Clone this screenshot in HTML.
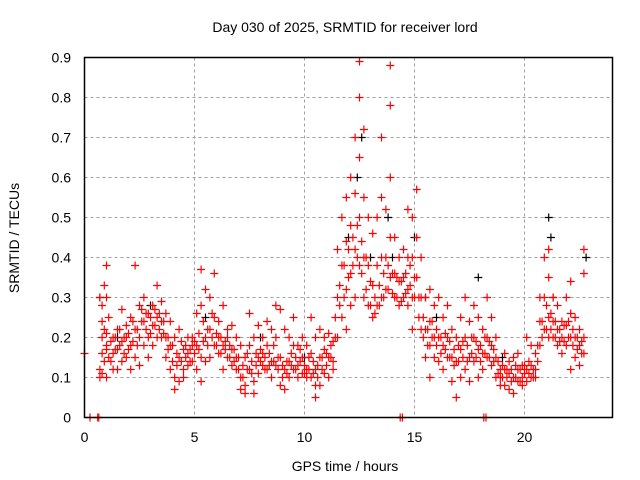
<!DOCTYPE html>
<html><head><meta charset="utf-8"><style>
body{margin:0;background:#fff;}
svg{display:block;font-family:"Liberation Sans",sans-serif;}
</style></head><body>
<svg id="chart" width="640" height="480">
<rect width="640" height="480" fill="#fff"/>
<text x="345" y="32" font-size="14" text-anchor="middle">Day 030 of 2025, SRMTID for receiver lord</text>
<text x="345" y="471" font-size="14" text-anchor="middle">GPS time / hours</text>
<text transform="translate(19,238) rotate(-90)" font-size="14" text-anchor="middle">SRMTID / TECUs</text>
<g id="grid"></g>
<g id="ticks"></g>
<g id="marks"></g>
<rect x="84.5" y="57.5" width="528" height="360" fill="none" stroke="#000" stroke-width="1.5"/>
</svg>
<script>
const xTicks=[0,5,10,15,20];
const yTicks=[0,0.1,0.2,0.3,0.4,0.5,0.6,0.7,0.8,0.9];
const yTickLabels=["0","0.1","0.2","0.3","0.4","0.5","0.6","0.7","0.8","0.9"];
const redT=[0.0,0.7,0.8,0.9,1.0,1.1,1.3,1.5,1.7,1.9,2.1,2.3,2.5,2.7,2.9,3.1,3.3,3.5,3.7,3.9,4.1,4.3,4.5,4.7,4.9,5.1,5.3,5.5,5.7,5.9,6.1,6.3,6.5,6.7,6.9,7.1,7.3,7.5,7.7,7.9,8.1,8.3,8.5,8.7,8.9,9.1,9.3,9.5,9.7,9.9,10.1,10.3,10.5,10.7,10.9,11.1,11.3,11.5,11.7,11.9,12.1,12.3,12.5,12.7,12.9,13.1,13.3,13.5,13.7,13.9,14.1,14.3,14.5,14.7,14.9,15.1,15.3,15.5,15.7,15.9,16.1,16.3,16.5,16.7,16.9,17.1,17.3,17.5,17.7,17.9,18.1,18.3,18.5,18.7,18.9,19.1,19.3,19.5,19.7,19.9,20.1,20.3,20.5,20.7,20.9,21.1,21.3,21.5,21.7,21.9,22.1,22.3,22.5,22.7];
const redV=[[0.16],[0.3,0.12,0.1],[0.28,0.11,0.2],[0.33,0.22,0.14],[0.38,0.3,0.18,0.1],[0.25,0.15],[0.2,0.12,0.16],[0.22,0.17,0.12],[0.27,0.19,0.14],[0.2,0.15,0.23],[0.18,0.12,0.25],[0.38,0.22,0.15],[0.28,0.2,0.13],[0.3,0.24,0.18],[0.26,0.2,0.15],[0.28,0.23,0.18],[0.33,0.25,0.2],[0.29,0.24,0.2],[0.26,0.2,0.15],[0.24,0.18,0.12],[0.2,0.1,0.07],[0.22,0.15,0.09],[0.17,0.12,0.1],[0.2,0.16,0.13],[0.18,0.14,0.2],[0.26,0.18,0.12],[0.37,0.28,0.15,0.09],[0.32,0.2,0.14],[0.3,0.22,0.15],[0.36,0.25,0.18],[0.24,0.2,0.16],[0.28,0.18,0.12],[0.2,0.15,0.22],[0.23,0.17,0.13],[0.2,0.15,0.12],[0.18,0.1,0.07],[0.15,0.08,0.06],[0.26,0.18,0.12],[0.2,0.09,0.06],[0.23,0.15,0.11],[0.2,0.16,0.13],[0.24,0.18,0.12],[0.22,0.14,0.1],[0.28,0.2,0.13],[0.27,0.15,0.08],[0.22,0.12,0.07],[0.2,0.14,0.1],[0.25,0.18,0.12],[0.18,0.13,0.1],[0.2,0.15,0.11],[0.18,0.12,0.1],[0.25,0.16,0.1],[0.2,0.12,0.08,0.05],[0.22,0.15,0.08],[0.2,0.17,0.11],[0.21,0.15,0.1],[0.19,0.14,0.12],[0.42,0.3,0.2],[0.5,0.38,0.25],[0.55,0.44,0.32,0.22],[0.6,0.48,0.36,0.28],[0.7,0.56,0.42,0.3],[0.89,0.8,0.65,0.5,0.38],[0.72,0.55,0.4,0.3],[0.5,0.38,0.28],[0.46,0.33,0.25],[0.5,0.38,0.28],[0.7,0.55,0.4,0.3],[0.52,0.4,0.32],[0.88,0.78,0.6,0.45,0.35],[0.45,0.36,0.3],[0.4,0.34,0.28],[0.42,0.35,0.3],[0.52,0.4,0.32,0.28],[0.5,0.4,0.3,0.22],[0.57,0.45,0.35],[0.4,0.3,0.22],[0.3,0.22,0.15],[0.32,0.24,0.18,0.1],[0.28,0.2,0.15],[0.3,0.2,0.14],[0.25,0.18,0.12],[0.28,0.2,0.15],[0.22,0.15,0.09],[0.2,0.14,0.05],[0.25,0.17,0.1],[0.3,0.2,0.12],[0.24,0.15,0.09],[0.28,0.2,0.14],[0.25,0.17,0.1],[0.22,0.16,0.12],[0.3,0.2,0.15],[0.25,0.18,0.13],[0.2,0.15,0.1],[0.12,0.1,0.08],[0.16,0.12,0.08],[0.14,0.11,0.07],[0.15,0.1,0.06],[0.16,0.12,0.09],[0.13,0.1,0.08],[0.2,0.12,0.09],[0.18,0.13,0.1],[0.16,0.12,0.1],[0.3,0.24,0.18],[0.4,0.3,0.22],[0.42,0.35,0.25,0.2],[0.3,0.24,0.2],[0.28,0.22,0.18],[0.24,0.2,0.16],[0.3,0.23,0.18],[0.34,0.26,0.2,0.12],[0.25,0.2,0.15],[0.22,0.18,0.13],[0.42,0.36,0.2,0.16]];
const redT2=[0.8,1.0,1.2,1.4,1.6,1.8,2.0,2.2,2.4,2.6,2.8,3.0,3.2,3.4,3.6,3.8,4.0,4.2,4.4,4.6,4.8,5.0,5.2,5.4,5.6,5.8,6.0,6.2,6.4,6.6,6.8,7.0,7.2,7.4,7.6,7.8,8.0,8.2,8.4,8.6,8.8,9.0,9.2,9.4,9.6,9.8,10.0,10.2,10.4,10.6,10.8,11.0,11.2,11.4,11.6,11.8,12.0,12.2,12.4,12.6,12.8,13.0,13.2,13.4,13.6,13.8,14.0,14.2,14.4,14.6,14.8,15.0,15.2,15.4,15.6,15.8,16.0,16.2,16.4,16.6,16.8,17.0,17.2,17.4,17.6,17.8,18.0,18.2,18.4,18.6,18.8,19.0,19.2,19.4,19.6,19.8,20.0,20.2,20.4,20.6,20.8,21.0,21.2,21.4,21.6,21.8,22.0,22.2,22.4,22.6];
const redV2=[[0.16,0.24],[0.17,0.21],[0.19,0.14],[0.2,0.17],[0.18,0.22],[0.16,0.2],[0.21,0.17],[0.19,0.24],[0.22,0.18],[0.24,0.27],[0.22,0.26],[0.25,0.21],[0.27,0.23],[0.26,0.22],[0.24,0.21],[0.2,0.17],[0.18,0.14],[0.16,0.13],[0.14,0.19],[0.15,0.18],[0.17,0.14],[0.19,0.16],[0.21,0.17],[0.24,0.19],[0.22,0.18],[0.2,0.26],[0.21,0.18],[0.2,0.16],[0.19,0.17],[0.18,0.15],[0.17,0.14],[0.15,0.12],[0.13,0.1],[0.16,0.12],[0.14,0.11],[0.16,0.13],[0.17,0.14],[0.15,0.12],[0.16,0.13],[0.18,0.14],[0.15,0.12],[0.13,0.1],[0.14,0.11],[0.16,0.13],[0.15,0.12],[0.14,0.17],[0.13,0.11],[0.15,0.12],[0.14,0.11],[0.13,0.1],[0.15,0.12],[0.16,0.13],[0.15,0.18],[0.25,0.2],[0.33,0.28],[0.38,0.3],[0.42,0.35],[0.45,0.38],[0.48,0.4],[0.44,0.36],[0.4,0.32],[0.34,0.28],[0.3,0.26],[0.33,0.28],[0.36,0.3],[0.38,0.32],[0.36,0.31],[0.35,0.3],[0.34,0.29],[0.36,0.31],[0.38,0.33],[0.35,0.3],[0.3,0.25],[0.25,0.2],[0.22,0.18],[0.24,0.2],[0.22,0.18],[0.2,0.16],[0.21,0.17],[0.19,0.15],[0.17,0.13],[0.18,0.14],[0.19,0.15],[0.18,0.14],[0.2,0.16],[0.19,0.15],[0.18,0.14],[0.2,0.16],[0.19,0.15],[0.17,0.14],[0.14,0.11],[0.13,0.1],[0.12,0.1],[0.12,0.09],[0.13,0.1],[0.12,0.09],[0.13,0.11],[0.14,0.11],[0.12,0.1],[0.18,0.14],[0.24,0.2],[0.28,0.22],[0.26,0.22],[0.24,0.2],[0.22,0.19],[0.23,0.19],[0.24,0.2],[0.22,0.18],[0.2,0.17],[0.19,0.16]];
const zeroT=[0.25,0.6,0.65,14.35,14.45,18.15,18.25];
const blackT=[0.7,1.5,3.0,5.5,8.0,10.0,12.0,12.4,12.6,13.0,13.8,14.0,15.0,15.5,16.0,17.9,19.0,21.1,21.2,21.3,22.8];
const blackV=[0.3,0.2,0.28,0.25,0.2,0.15,0.45,0.6,0.7,0.4,0.5,0.4,0.45,0.3,0.25,0.35,0.15,0.5,0.45,0.3,0.4];
const NS="http://www.w3.org/2000/svg";
function xs(t){return 84.5+t*22;}
function ys(v){return 417.5-v*400;}
function mk(tag,attrs,parent){const e=document.createElementNS(NS,tag);for(const k in attrs)e.setAttribute(k,attrs[k]);parent.appendChild(e);return e;}
const grid=document.getElementById('grid'),ticks=document.getElementById('ticks'),marks=document.getElementById('marks');
xTicks.forEach(t=>{
  const x=xs(t);
  if(t>0){const g=mk('line',{x1:x,x2:x,y1:57.5,y2:417.5,stroke:'#a0a0a0','stroke-dasharray':'3,3'},grid);
  
  }
  const l=mk('text',{x:x,y:442,'font-size':14,'text-anchor':'middle'},ticks);l.textContent=t;
  
  
});
yTicks.forEach((v,i)=>{
  const y=ys(v);
  if(v>0&&v<0.9){const g=mk('line',{x1:84.5,x2:612.5,y1:y,y2:y,stroke:'#a0a0a0','stroke-dasharray':'3,3'},grid);
  
  }
  const l=mk('text',{x:71,y:y+5,'font-size':14,'text-anchor':'end'},ticks);l.textContent=yTickLabels[i];
  
  
});
function plus(t,v,col,name){
  const x=xs(t),y=ys(v);
  const p=mk('path',{d:`M${x-4} ${y}H${x+4}M${x} ${y-4}V${y+4}`,stroke:col,'stroke-width':1.2,fill:'none'},marks);
  
  
}
blackT.forEach((t,i)=>plus(t,blackV[i],'#000','black-point'));
redT.forEach((t,i)=>redV[i].forEach(v=>plus(t,v,'#ff0000','red-point')));
redT2.forEach((t,i)=>redV2[i].forEach(v=>plus(t,v,'#ff0000','red-point')));
zeroT.forEach(t=>plus(t,0,'#ff0000','red-zero-point'));
</script>
</body></html>
